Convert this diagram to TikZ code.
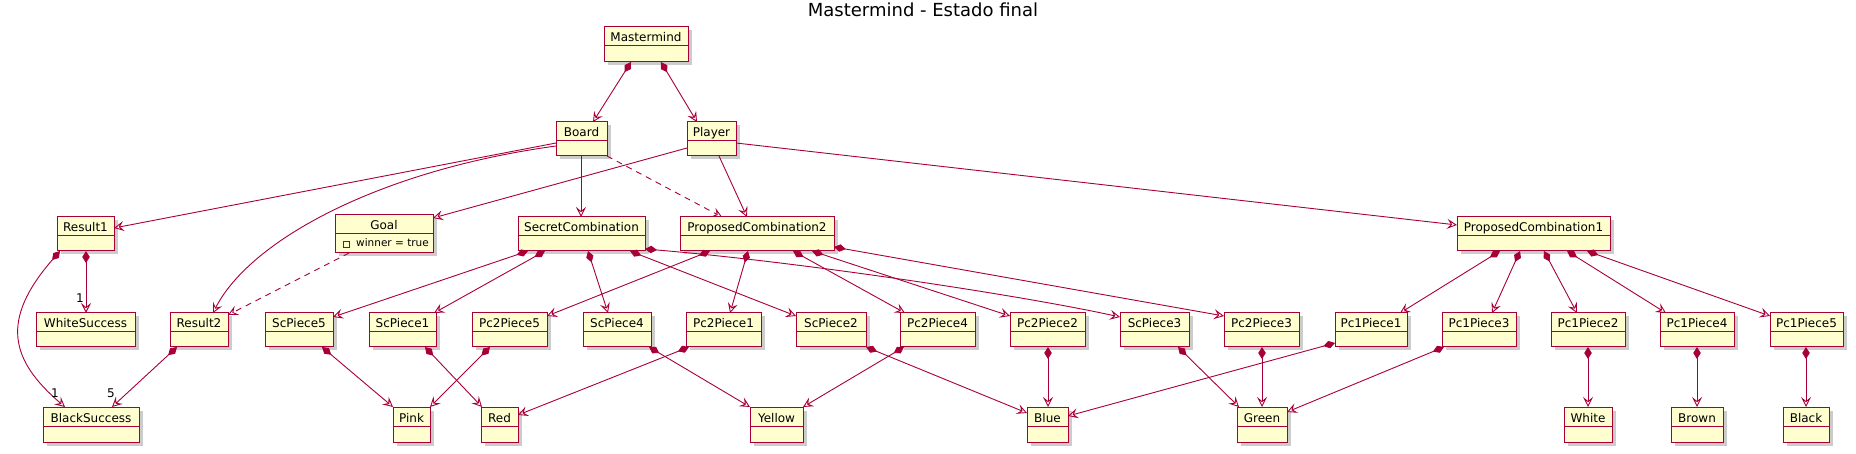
\documentclass[tikz,border=0pt]{standalone}
\usepackage{fontspec}
\setmainfont{DejaVu Sans}
\usetikzlibrary{arrows.meta,shadows}
\definecolor{umlred}{HTML}{A80036}
\definecolor{umlfill}{HTML}{FEFECE}
\tikzset{
  objbox/.style={draw=umlred, fill=umlfill, line width=1pt, inner sep=0pt, outer sep=0pt,
    drop shadow={shadow xshift=3.5pt, shadow yshift=-3.5pt, fill=black!50, opacity=.4}},
  objsep/.style={draw=umlred, line width=1pt},
  objlbl/.style={font=\fontsize{12}{14}\selectfont, inner sep=0pt, text=black},
  comp/.style={draw=umlred, line width=.9pt,
    {Diamond[length=12pt,width=7.5pt,fill=umlred]}-{Stealth[open,length=10pt,width=10pt,inset=4pt]}},
  assoc/.style={draw=umlred, line width=.9pt, -{Stealth[open,length=10pt,width=10pt,inset=4pt]}},
  dep/.style={assoc, dash pattern=on 6pt off 5pt},
  mult/.style={font=\fontsize{12}{14}\selectfont, inner sep=0pt},
}
\newcommand{\umlobj}[6]{%
  \node[objbox, anchor=north west, minimum width={(#4-#3)*1pt}, minimum height={#6*1pt}] (#1) at (#3,#5) {};
  \draw[objsep] ([shift={(0,19)}]#1.north west) -- ([shift={(0,19)}]#1.north east);
  \node[objlbl, anchor=base] (#1-t) at ([shift={(0,15)}]#1.north) {#2};
}
\begin{document}
\begin{tikzpicture}[x=1pt,y=-1pt]
\useasboundingbox (0,0) rectangle (1856,454);
\node[font=\fontsize{18}{22}\selectfont, anchor=base, inner sep=0pt] (title) at (923,17) {Mastermind - Estado final};

\umlobj{Mastermind}{Mastermind}{604}{688}{27}{35}
\umlobj{Board}{Board}{556}{607}{122}{34}
\umlobj{Player}{Player}{687}{736}{122}{34}
\umlobj{Result1}{Result1}{57}{114}{217}{34}
\umlobj{Goal}{Goal}{335}{433}{215}{38}
\node[draw=umlred, line width=.8pt, minimum size=6pt, inner sep=0pt] (goalmark) at ([shift={(11.5,29)}]Goal.north west) {};
\node[font=\fontsize{10.5}{13}\selectfont, anchor=base west, inner sep=0pt] (goalattr) at ([shift={(21,32)}]Goal.north west) {winner = true};
\umlobj{SecretCombination}{SecretCombination}{518}{645}{217}{34}
\umlobj{PCtwo}{ProposedCombination2}{680}{834}{217}{34}
\umlobj{PCone}{ProposedCombination1}{1457}{1610}{217}{34}

\umlobj{WhiteSuccess}{WhiteSuccess}{36}{135}{313}{34}
\umlobj{Result2}{Result2}{170}{228}{313}{34}
\umlobj{ScPiece5}{ScPiece5}{265}{333}{313}{34}
\umlobj{ScPiece1}{ScPiece1}{369}{436}{313}{34}
\umlobj{Pc2Piece5}{Pc2Piece5}{472}{547}{313}{34}
\umlobj{ScPiece4}{ScPiece4}{583}{651}{313}{34}
\umlobj{Pc2Piece1}{Pc2Piece1}{686}{761}{313}{34}
\umlobj{ScPiece2}{ScPiece2}{796}{866}{313}{34}
\umlobj{Pc2Piece4}{Pc2Piece4}{900}{975}{313}{34}
\umlobj{Pc2Piece2}{Pc2Piece2}{1010}{1085}{313}{34}
\umlobj{ScPiece3}{ScPiece3}{1120}{1189}{313}{34}
\umlobj{Pc2Piece3}{Pc2Piece3}{1224}{1299}{313}{34}
\umlobj{Pc1Piece1}{Pc1Piece1}{1335}{1407}{313}{34}
\umlobj{Pc1Piece3}{Pc1Piece3}{1442}{1516}{313}{34}
\umlobj{Pc1Piece2}{Pc1Piece2}{1551}{1625}{313}{34}
\umlobj{Pc1Piece4}{Pc1Piece4}{1660}{1734}{313}{34}
\umlobj{Pc1Piece5}{Pc1Piece5}{1770}{1843}{313}{34}

\umlobj{BlackSuccess}{BlackSuccess}{43}{139}{407}{35}
\umlobj{Pink}{Pink}{393}{430}{407}{35}
\umlobj{Red}{Red}{481}{518}{407}{35}
\umlobj{Yellow}{Yellow}{750}{803}{407}{35}
\umlobj{Blue}{Blue}{1027}{1068}{407}{35}
\umlobj{Green}{Green}{1237}{1287}{407}{35}
\umlobj{White}{White}{1564}{1612}{407}{35}
\umlobj{Brown}{Brown}{1671}{1723}{407}{35}
\umlobj{Black}{Black}{1783}{1829}{407}{35}

% top levels
\draw[comp] ([shift={(27,0)}]Mastermind.south west) -- ([shift={(37,0)}]Board.north west);
\draw[comp] ([shift={(57,0)}]Mastermind.south west) -- ([shift={(10,0)}]Player.north west);
\draw[assoc] ([shift={(0,21)}]Board.north west) -- ([shift={(0,11)}]Result1.north east);
\draw[assoc] ([shift={(0,24)}]Board.north west) .. controls (380,170) and (250,240) .. ([shift={(43,0)}]Result2.north west);
\draw[dep] (Board.south east) -- ([shift={(42,0)}]PCtwo.north west);
\draw[assoc] ([shift={(25,0)}]Board.south west) -- ([shift={(63,0)}]SecretCombination.north west);
\draw[assoc] ([shift={(0,26)}]Player.north west) -- ([shift={(0,3)}]Goal.north east);
\draw[assoc] ([shift={(32,0)}]Player.south west) -- ([shift={(67,0)}]PCtwo.north west);
\draw[assoc] ([shift={(0,21)}]Player.north east) -- ([shift={(0,8)}]PCone.north west);
\draw[dep] ([shift={(14,0)}]Goal.south west) -- ([shift={(0,2)}]Result2.north east);

% results
\draw[comp] ([shift={(29,0)}]Result1.south west) -- ([shift={(50,0)}]WhiteSuccess.north west);
\node[mult, anchor=base] (m1) at (80,303) {1};
\draw[comp] ([shift={(3,0)}]Result1.south west) .. controls (0,320) and (10,360) .. ([shift={(22,0)}]BlackSuccess.north west);
\node[mult, anchor=base] (m2) at (55,397) {1};
\draw[comp] ([shift={(7,0)}]Result2.south west) -- ([shift={(69,0)}]BlackSuccess.north west);
\node[mult, anchor=base] (m3) at (111,397) {5};

% secret combination
\draw[comp] ([shift={(10,0)}]SecretCombination.south west) -- ([shift={(0,4)}]ScPiece5.north east);
\draw[comp] ([shift={(27,0)}]SecretCombination.south west) -- ([shift={(65,0)}]ScPiece1.north west);
\draw[comp] ([shift={(70,0)}]SecretCombination.south west) -- ([shift={(25,0)}]ScPiece4.north west);
\draw[comp] ([shift={(112,0)}]SecretCombination.south west) -- ([shift={(0,3)}]ScPiece2.north west);
\draw[comp] ([shift={(0,32)}]SecretCombination.north east) .. controls (800,262) and (1020,295) .. ([shift={(0,4)}]ScPiece3.north west);

% proposed combination 2
\draw[comp] ([shift={(30,0)}]PCtwo.south west) -- ([shift={(0,3)}]Pc2Piece5.north east);
\draw[comp] ([shift={(68,0)}]PCtwo.south west) -- ([shift={(44,0)}]Pc2Piece1.north west);
\draw[comp] ([shift={(113,0)}]PCtwo.south west) -- ([shift={(5,0)}]Pc2Piece4.north west);
\draw[comp] ([shift={(132,0)}]PCtwo.south west) -- ([shift={(0,3)}]Pc2Piece2.north west);
\draw[comp] ([shift={(0,30)}]PCtwo.north east) -- ([shift={(0,3)}]Pc2Piece3.north west);

% proposed combination 1
\draw[comp] ([shift={(43,0)}]PCone.south west) -- ([shift={(65,0)}]Pc1Piece1.north west);
\draw[comp] ([shift={(63,0)}]PCone.south west) -- ([shift={(50,0)}]Pc1Piece3.north west);
\draw[comp] ([shift={(87,0)}]PCone.south west) -- ([shift={(26,0)}]Pc1Piece2.north west);
\draw[comp] ([shift={(110,0)}]PCone.south west) -- ([shift={(6,0)}]Pc1Piece4.north west);
\draw[comp] ([shift={(130,0)}]PCone.south west) -- ([shift={(0,3)}]Pc1Piece5.north west);

% pieces to colours
\draw[comp] ([shift={(57,0)}]ScPiece5.south west) -- (Pink.north west);
\draw[comp] ([shift={(56,0)}]ScPiece1.south west) -- ([shift={(1,0)}]Red.north west);
\draw[comp] ([shift={(18,0)}]Pc2Piece5.south west) -- (Pink.north east);
\draw[comp] ([shift={(66,0)}]ScPiece4.south west) -- (Yellow.north west);
\draw[comp] ([shift={(3,0)}]Pc2Piece1.south west) -- ([shift={(0,8)}]Red.north east);
\draw[comp] (ScPiece2.south east) -- ([shift={(0,6)}]Blue.north west);
\draw[comp] ([shift={(4,0)}]Pc2Piece4.south west) -- (Yellow.north east);
\draw[comp] ([shift={(38,0)}]Pc2Piece2.south west) -- ([shift={(21,0)}]Blue.north west);
\draw[comp] ([shift={(58,0)}]ScPiece3.south west) -- ([shift={(2,0)}]Green.north west);
\draw[comp] ([shift={(38,0)}]Pc2Piece3.south west) -- ([shift={(25,0)}]Green.north west);
\draw[comp] ([shift={(0,30)}]Pc1Piece1.north west) -- ([shift={(0,9)}]Blue.north east);
\draw[comp] ([shift={(2,0)}]Pc1Piece3.south west) -- ([shift={(0,5)}]Green.north east);
\draw[comp] ([shift={(37,0)}]Pc1Piece2.south west) -- ([shift={(24,0)}]White.north west);
\draw[comp] ([shift={(37,0)}]Pc1Piece4.south west) -- ([shift={(26,0)}]Brown.north west);
\draw[comp] ([shift={(36,0)}]Pc1Piece5.south west) -- ([shift={(23,0)}]Black.north west);
\end{tikzpicture}
\end{document}
